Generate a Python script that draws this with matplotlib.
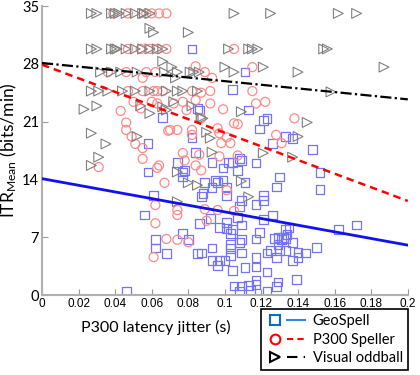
import numpy as np
import matplotlib
matplotlib.use('Agg')
from matplotlib import pyplot as plt
from matplotlib.lines import Line2D
from matplotlib.legend_handler import HandlerTuple

plt.rcParams['font.family'] = ['Lato', 'DejaVu Sans']
plt.rcParams['mathtext.default'] = 'regular'

# GeoSpell (squares)
geo_x = [0.082, 0.111, 0.104, 0.113, 0.121, 0.123, 0.119, 0.133, 0.137, 0.148, 0.066, 0.082, 0.058,
         0.085, 0.086, 0.126, 0.084, 0.074, 0.093, 0.104, 0.108, 0.117, 0.078, 0.099, 0.107, 0.077,
         0.089, 0.095, 0.099, 0.093, 0.088, 0.087, 0.101, 0.121, 0.128, 0.130, 0.152, 0.152, 0.058,
         0.061, 0.056, 0.077, 0.062, 0.062, 0.068, 0.077, 0.080, 0.085, 0.087, 0.086, 0.046, 0.102,
         0.109, 0.096, 0.111, 0.101, 0.109, 0.117, 0.121, 0.092, 0.097, 0.101, 0.101, 0.104, 0.103,
         0.107, 0.109, 0.121, 0.126, 0.117, 0.119, 0.127, 0.133, 0.135, 0.133, 0.134, 0.131, 0.137,
         0.133, 0.129, 0.130, 0.125, 0.123, 0.128, 0.109, 0.103, 0.103, 0.103, 0.093, 0.093, 0.096,
         0.097, 0.100, 0.117, 0.117, 0.111, 0.104, 0.123, 0.137, 0.140, 0.140, 0.144, 0.150, 0.162,
         0.172, 0.139, 0.117, 0.117, 0.113, 0.109, 0.105, 0.108, 0.123, 0.128, 0.114, 0.132, 0.129,
         0.108, 0.109, 0.108, 0.129]
geo_y = [29.8, 27.0, 24.9, 22.4, 21.1, 21.4, 20.1, 19.2, 19.0, 17.6, 21.5, 19.1, 18.4,
         22.6, 22.4, 18.4, 17.3, 16.1, 16.1, 16.1, 16.5, 16.0, 15.1, 15.4, 15.1, 14.3,
         13.6, 13.9, 13.9, 13.0, 12.3, 11.9, 13.0, 12.1, 13.1, 14.3, 14.8, 12.8, 14.9,
         12.1, 9.7, 14.9, 6.7, 5.7, 5.0, 7.5, 6.7, 5.0, 5.1, 8.7, 0.5, 16.1,
         16.3, 13.6, 13.6, 12.1, 11.5, 11.0, 11.5, 9.3, 8.2, 8.8, 8.1, 7.9, 7.5,
         9.4, 8.5, 9.2, 9.7, 6.8, 7.6, 6.9, 7.9, 8.2, 6.9, 7.3, 6.7, 6.4,
         5.4, 6.1, 5.4, 5.4, 5.1, 4.6, 6.7, 6.1, 5.6, 4.8, 5.7, 4.2, 3.6,
         4.2, 4.2, 4.6, 3.4, 3.3, 3.0, 2.8, 4.2, 5.2, 4.6, 5.1, 5.8, 7.9,
         8.5, 1.9, 1.8, 1.3, 1.2, 1.1, 1.1, 0.5, 0.5, 1.0, 0.6, 7.0, 1.6,
         10.7, 5.1, 6.4, 7.0]

# P300 Speller (circles)
spl_x = [0.039, 0.047, 0.057, 0.060, 0.064, 0.068, 0.047, 0.054, 0.059, 0.063, 0.068, 0.105,
         0.036, 0.046, 0.055, 0.057, 0.062, 0.084, 0.089, 0.093, 0.115, 0.047, 0.055, 0.061,
         0.063, 0.066, 0.082, 0.092, 0.115, 0.087, 0.060, 0.063, 0.077, 0.084, 0.079, 0.072,
         0.092, 0.099, 0.117, 0.122, 0.043, 0.046, 0.046, 0.049, 0.051, 0.055, 0.055, 0.031,
         0.063, 0.064, 0.067, 0.069, 0.054, 0.050, 0.070, 0.074, 0.082, 0.082, 0.087, 0.098,
         0.103, 0.105, 0.107, 0.077, 0.084, 0.087, 0.107, 0.128, 0.138, 0.131, 0.096, 0.097,
         0.101, 0.097, 0.101, 0.096, 0.105, 0.062, 0.062, 0.068, 0.061, 0.074, 0.074, 0.078,
         0.086, 0.089, 0.090, 0.074, 0.080]
spl_y = [34.1, 34.1, 34.1, 34.1, 34.1, 34.1, 29.8, 29.8, 29.8, 29.8, 29.8, 29.8,
         27.0, 27.0, 26.3, 27.0, 27.0, 27.7, 27.0, 26.3, 27.6, 24.7, 24.7, 24.7,
         24.7, 24.7, 24.7, 24.7, 24.7, 24.5, 23.4, 23.2, 23.4, 23.6, 22.4, 23.2,
         23.2, 22.5, 23.2, 23.4, 22.3, 20.9, 20.0, 19.2, 18.3, 17.8, 16.5, 15.5,
         15.4, 15.7, 13.6, 19.9, 22.6, 23.4, 20.0, 20.0, 20.0, 19.4, 21.4, 18.4,
         18.4, 20.8, 20.7, 17.2, 15.7, 15.1, 16.9, 19.4, 21.4, 18.4, 20.2, 19.6,
         19.1, 16.8, 12.7, 10.3, 10.2, 10.9, 8.7, 6.8, 4.6, 10.3, 9.7, 16.3,
         17.0, 10.4, 9.0, 6.7, 6.4]

# Visual oddball (triangles)
odd_x = [0.027, 0.030, 0.038, 0.040, 0.042, 0.046, 0.051, 0.055, 0.056, 0.059, 0.105, 0.125, 0.162, 0.172,
         0.059, 0.061, 0.080,
         0.027, 0.030, 0.038, 0.040, 0.041, 0.046, 0.051, 0.055, 0.059, 0.063, 0.066, 0.102, 0.113,
         0.115, 0.118, 0.154, 0.156,
         0.066, 0.071, 0.073, 0.100, 0.105, 0.121, 0.140, 0.187, 0.158,
         0.032, 0.038, 0.043, 0.052, 0.067, 0.074, 0.081, 0.083, 0.086,
         0.027, 0.031, 0.036, 0.044, 0.051, 0.059, 0.068, 0.074, 0.077, 0.085,
         0.072, 0.082, 0.087, 0.090, 0.023, 0.030, 0.027, 0.035, 0.031, 0.027, 0.052, 0.054,
         0.059, 0.066, 0.068, 0.088, 0.092, 0.093, 0.109, 0.121, 0.137, 0.145, 0.140, 0.109,
         0.113, 0.074, 0.080, 0.085, 0.074]
odd_y = [34.1] * 14 + [32.3, 31.8, 31.8] + [29.8] * 17 + \
        [28.3, 27.6, 26.3, 27.6, 27.0, 27.6, 27.0, 27.6, 24.6] + [27.0] * 9 + [24.7] * 10 + \
        [23.4, 22.9, 21.5, 19.7, 22.5, 22.9, 19.6, 18.3, 16.7, 15.7, 19.2, 22.9,
         22.0, 22.8, 22.4, 21.4, 19.0, 17.3, 22.2, 17.2, 16.7, 20.9, 19.2, 13.8,
         11.9, 14.9, 13.6, 13.3, 11.3]

# regression lines, values at jitter 0 and 0.2
fit_x = [0, 0.2]
geo_fit = [14.1, 6.05]
spl_fit = [27.9, 11.4]
odd_fit = [28.1, 23.7]

fig = plt.figure(figsize=(4.2, 3.75), dpi=100)
ax = fig.add_axes([0.1, 0.213, 0.871, 0.771])

ax.scatter(geo_x, geo_y, marker='s', s=40, facecolors='none', edgecolors='#7474f4', linewidths=0.9, zorder=2)
ax.scatter(spl_x, spl_y, marker='o', s=42, facecolors='none', edgecolors='#ff8a8a', linewidths=0.9, zorder=2)
ax.scatter(odd_x, odd_y, marker='>', s=50, facecolors='none', edgecolors='#808080', linewidths=0.8, zorder=2)

ax.plot(fit_x, geo_fit, color='#1010f0', lw=2, zorder=3)
ax.plot(fit_x, spl_fit, color='#ff0000', lw=1.8, ls=(0, (3, 2)), zorder=3)
ax.plot(fit_x, odd_fit, color='black', lw=1.6, ls=(0, (5, 1.5, 1, 1.5)), zorder=3)

ax.set_xlim(0, 0.2)
ax.set_ylim(0, 35)
ax.set_xticks(np.arange(0, 0.201, 0.02))
ax.set_xticklabels(['0', '0.02', '0.04', '0.06', '0.08', '0.1', '0.12', '0.14', '0.16', '0.18', '0.2'],
                   family='Liberation Sans')
ax.set_yticks([0, 7, 14, 21, 28, 35])
ax.tick_params(axis='x', direction='in', length=4, labelsize=8.5, color='#999999', pad=2)
ax.tick_params(axis='y', direction='in', length=4, labelsize=10.5, color='#999999', pad=2)
for side in ['top', 'right']:
    ax.spines[side].set_visible(False)
for side in ['left', 'bottom']:
    ax.spines[side].set_color('#b0b0b0')
    ax.spines[side].set_linewidth(1.5)

ax.set_xlabel('P300 latency jitter (s)', fontsize=11.5)
ax.xaxis.set_label_coords(0.31, -0.085)
ax.set_ylabel('ITR$_{Mean}$ (bits/min)', fontsize=12.5, labelpad=2)

h_geo = (Line2D([], [], marker='s', ls='none', mfc='none', mec='#0070c0', mew=1.5, ms=7),
         Line2D([], [], color='#2e8ae0', lw=1.5))
h_spl = (Line2D([], [], marker='o', ls='none', mfc='none', mec='#ff0000', mew=1.5, ms=7),
         Line2D([], [], color='#ff0000', lw=1.5, ls=(0, (3, 2))))
h_odd = (Line2D([], [], marker='>', ls='none', mfc='none', mec='black', mew=1.5, ms=7),
         Line2D([], [], color='black', lw=1.5, ls=(0, (5, 3, 1, 3))))
leg = fig.legend([h_geo, h_spl, h_odd], ['GeoSpell', 'P300 Speller', 'Visual oddball'],
                 handler_map={tuple: HandlerTuple(ndivide=None, pad=0.2)},
                 loc='lower right', bbox_to_anchor=(0.978, 0.005), fontsize=10.5,
                 handlelength=2.7, handletextpad=0.5, labelspacing=0.3, borderpad=0.35,
                 borderaxespad=0.2, fancybox=False, framealpha=1, edgecolor='black')
leg.get_frame().set_linewidth(1.2)

plt.savefig('out.png', dpi=100)
